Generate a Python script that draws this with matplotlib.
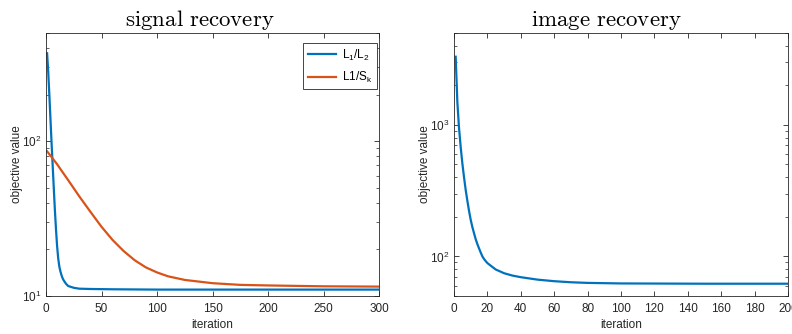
import matplotlib
matplotlib.use('Agg')
import matplotlib.pyplot as plt
import numpy as np

# signal recovery: L1/L2 (blue) and L1/Sk (orange)
sig_it_l1l2 = [1, 2, 3, 4, 5, 6, 7, 8, 9, 10, 11, 12, 13, 14, 15, 16, 18, 20, 25, 30, 40, 60, 100, 200, 300]
sig_val_l1l2 = [370, 280, 200, 140, 98, 70, 50, 36, 27, 21, 17.5, 15.5, 14.4, 13.6, 13.0, 12.6, 12.0, 11.6,
                11.3, 11.15, 11.1, 11.05, 11.0, 11.0, 11.0]
sig_it_l1sk = [1, 5, 10, 15, 20, 30, 40, 50, 60, 70, 80, 90, 100, 110, 125, 150, 175, 200, 250, 300]
sig_val_l1sk = [86, 79, 71, 63, 56, 44, 35, 28, 23, 19.5, 17, 15.3, 14.2, 13.4, 12.7, 12.1, 11.8, 11.7,
                11.55, 11.5]

# image recovery
img_it = [1, 2, 3, 4, 5, 6, 7, 8, 9, 10, 11, 12, 13, 14, 15, 16, 17, 18, 19, 20, 22, 25, 30, 35, 40, 50,
          60, 70, 80, 100, 150, 200]
img_val = [3300, 1500, 950, 680, 510, 400, 320, 265, 222, 190, 167, 150, 135, 124, 115, 107, 100, 95.5, 92,
           89, 85, 79.5, 74.5, 71.5, 69.5, 66.6, 64.8, 63.6, 62.9, 62.3, 62, 62]

blue = '#0072BD'
orange = '#D95319'
axcol = '#262626'

plt.rcParams['font.family'] = ['Liberation Sans', 'DejaVu Sans']
plt.rcParams['mathtext.fontset'] = 'custom'
plt.rcParams['mathtext.rm'] = 'Liberation Sans'
plt.rcParams['mathtext.it'] = 'Liberation Sans'

fig = plt.figure(figsize=(7.92, 3.34), dpi=100)
ax1 = fig.add_axes([46 / 792, 38 / 334, 333 / 792, 263 / 334])
ax2 = fig.add_axes([454 / 792, 38 / 334, 334 / 792, 263 / 334])

ax1.plot(sig_it_l1l2, sig_val_l1l2, color=blue, lw=1.6, label='L$_1$/L$_2$')
ax1.plot(sig_it_l1sk, sig_val_l1sk, color=orange, lw=1.6, label='L1/S$_k$')
ax2.plot(img_it, img_val, color=blue, lw=1.6)

ax1.set_xlim(0, 300)
ax1.set_ylim(10, 500)
ax1.set_xticks(np.arange(0, 301, 50))
ax2.set_xlim(0, 200)
ax2.set_ylim(50, 5000)
ax2.set_xticks(np.arange(0, 201, 20))

titles = ['signal recovery', 'image recovery']
title_x = [0.462, 0.457]
for ax, t, tx in zip([ax1, ax2], titles, title_x):
    ax.set_yscale('log')
    ax.set_title(r'$\mathrm{' + t.replace(' ', r'\ ') + '}$', fontsize=16.5, pad=5, x=tx,
                 math_fontfamily='cm')
    ax.set_xlabel('iteration', fontsize=8.5, color=axcol, labelpad=3)
    ax.set_ylabel('objective value', fontsize=8.5, color=axcol, labelpad=-1)
    ax.tick_params(which='both', direction='in', top=True, right=True, colors=axcol, labelsize=8.5)
    ax.tick_params(which='major', length=3.5, width=0.6)
    ax.tick_params(which='minor', length=2, width=0.5)
    ax.tick_params(axis='x', which='minor', bottom=False, top=False)
    ax.tick_params(axis='x', which='major', pad=5)
    for s in ax.spines.values():
        s.set_color(axcol)
        s.set_linewidth(0.6)

leg = ax1.legend(loc='upper right', bbox_to_anchor=(0.994, 0.963), borderaxespad=0, fontsize=8.5,
                 fancybox=False, edgecolor=axcol, framealpha=1, handlelength=2.4, labelspacing=0.6,
                 handletextpad=0.5, borderpad=0.4)
leg.get_frame().set_linewidth(0.6)

fig.savefig('out.png', dpi=100)
